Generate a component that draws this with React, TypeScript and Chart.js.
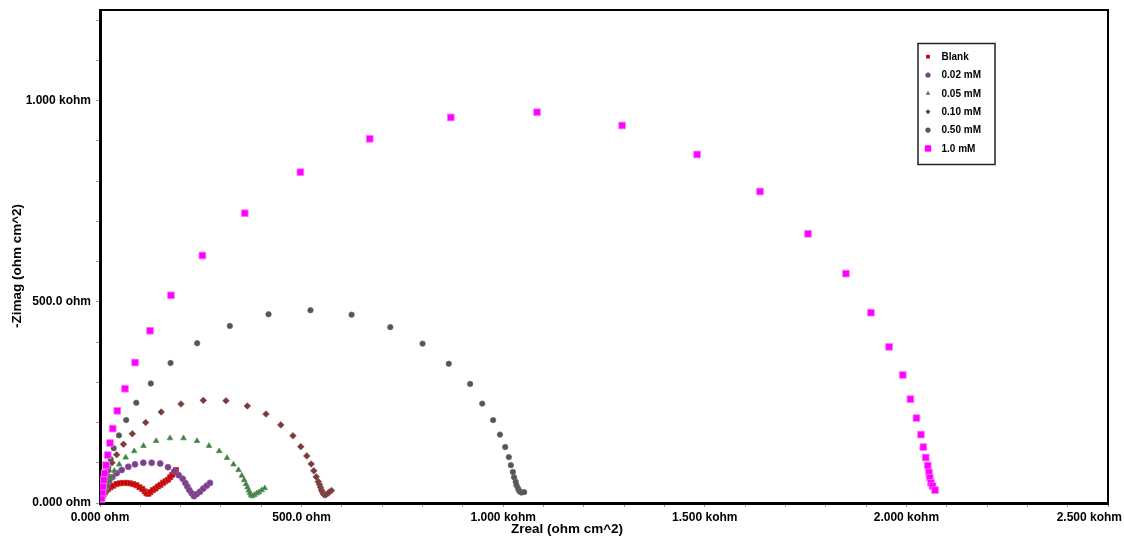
import React, { useEffect, useRef } from 'react';
import { Chart, registerables } from 'chart.js';

Chart.register(...registerables);

const seriesNames = ['Blank', '0.02 mM', '0.05 mM', '0.10 mM', '0.50 mM', '1.0 mM'];

const blankX = [1.2, 2.5, 4.2, 6.2, 8.7, 11.9, 15.6, 19.8, 26, 33, 40.9, 48.9, 57.5, 66.2, 74.4, 82.6, 90.5, 98, 104.9, 110.6, 115.3, 120.3, 125.2, 131.4, 137.6, 143.8, 150, 156.2, 162.4, 168.6, 174.1, 179.3, 184, 188.5];
const blankY = [2.5, 6, 11, 16, 21, 26, 31, 35, 39, 43, 47, 49, 50, 50, 49, 47, 44, 39, 35, 29, 24, 23, 27, 32, 36, 41, 45, 50, 54, 58, 64, 70, 76, 82];

const mM002X = [1.2, 2.5, 4.5, 6.9, 9.9, 13.1, 16.6, 22.3, 30.5, 41.4, 53.8, 70.2, 86.8, 107.4, 128.2, 149.3, 168.6, 184.8, 195.4, 205.1, 211.5, 216.5, 221.5, 227.4, 233.1, 239.8, 248, 256.2, 264.6, 272.8];
const mM002Y = [2.5, 6, 11, 19, 26, 34, 42, 53, 64, 74, 82, 90, 96, 100, 100, 98, 89, 79, 69, 60, 50, 41, 32, 24, 17, 22, 28, 36, 43, 50];

const mM005X = [1.2, 2.5, 4.5, 7, 10.4, 14.9, 20.6, 26.8, 35.5, 47.6, 63.7, 84.8, 107.9, 139.4, 173.6, 207.1, 240.6, 270.3, 295.6, 315, 331.1, 343.5, 351.7, 357.6, 362.1, 365.8, 369, 372, 374.5, 377.7, 382.7, 388.6, 394.3, 401, 408.5];
const mM005Y = [2.5, 6, 12, 19, 27, 37, 51, 64, 80, 96, 113, 129, 142, 154, 161, 161, 154, 142, 129, 112, 96, 82, 68, 57, 47, 39, 31, 25, 20, 17, 20, 24, 27, 32, 37];

const mM010X = [1.2, 2.5, 4.2, 6.2, 8.7, 11.7, 14.9, 20.6, 29.8, 41.4, 58.3, 80.1, 113.3, 151.8, 200.9, 256.2, 312.5, 365.3, 411.7, 448.4, 478.6, 498, 512.9, 523.8, 530.2, 536.2, 541.4, 544.4, 546.8, 549.3, 551.8, 554.3, 557.5, 561.2, 565, 568.7, 574.1];
const mM010Y = [2.5, 7.5, 14, 22, 34, 49, 65, 80, 100, 120, 146, 172, 200, 226, 246, 255, 254, 241, 221, 194, 167, 140, 117, 97, 80, 65, 53, 46, 39, 32, 27, 22, 20, 21, 24, 27, 31];

const mM050X = [1.2, 2.5, 3.7, 5, 7.4, 10, 13, 16.6, 20.6, 26.5, 34, 47, 65, 90, 126, 175, 241, 322, 418, 522, 624, 720, 800, 865, 918, 948, 975, 992, 1005, 1014, 1019, 1024, 1027, 1031, 1033, 1037, 1039, 1042, 1045, 1052];
const mM050Y = [2.5, 10, 17, 27, 37, 47, 60, 70, 88, 109, 136, 168, 206, 249, 297, 348, 397, 440, 469, 479, 468, 437, 396, 346, 296, 247, 206, 170, 139, 114, 94, 77, 64, 53, 44, 36, 31, 28, 26, 27];

const mM10X = [1.2, 2.5, 4, 5.7, 7.4, 9.2, 11.7, 14.9, 19.1, 24.8, 31.5, 42.9, 62, 87, 124, 176, 254, 359, 497, 669, 870, 1084, 1295, 1481, 1637, 1756, 1850, 1912, 1957, 1991, 2010, 2025, 2036, 2042, 2048, 2053, 2056, 2058, 2061, 2065, 2071];
const mM10Y = [2.5, 6, 12, 26, 41, 57, 74, 94, 119, 149, 185, 229, 284, 349, 428, 516, 615, 720, 822, 905, 958, 971, 938, 866, 774, 669, 570, 473, 388, 318, 258, 211, 170, 139, 113, 93, 76, 63, 50, 42, 32];

const xTickLabels = ['0.000 ohm', '500.0 ohm', '1.000 kohm', '1.500 kohm', '2.000 kohm', '2.500 kohm'];
const yTickLabels = ['0.000 ohm', '500.0 ohm', '1.000 kohm'];

const xTitle = 'Zreal (ohm cm^2)';
const yTitle = '-Zimag (ohm cm^2)';

const seriesX = [blankX, mM002X, mM005X, mM010X, mM050X, mM10X];
const seriesY = [blankY, mM002Y, mM005Y, mM010Y, mM050Y, mM10Y];
const colors = ['#c00000', '#7b3f8b', '#3e7e3e', '#7a3a3a', '#555555', '#ff00ff'];
const borders = ['#d03030', '#8e5a9c', '#5a925a', '#8e5252', '#666666', '#ff7aff'];
const styles = ['rect', 'circle', 'triangle', 'rectRot', 'circle', 'rect'];
const radii = [3.6, 3, 3.2, 3.3, 2.7, 4.8];

const FONT = "'Liberation Sans', Arial, sans-serif";

function drawMarker(ctx: CanvasRenderingContext2D, style: string, x: number, y: number, r: number, fill: string) {
  ctx.save();
  ctx.fillStyle = fill;
  ctx.beginPath();
  if (style === 'rect') {
    const s = r * Math.SQRT1_2;
    ctx.rect(x - s, y - s, 2 * s, 2 * s);
  } else if (style === 'circle') {
    ctx.arc(x, y, r, 0, Math.PI * 2);
  } else if (style === 'triangle') {
    ctx.moveTo(x, y - r);
    ctx.lineTo(x + r * 0.87, y + r * 0.5);
    ctx.lineTo(x - r * 0.87, y + r * 0.5);
    ctx.closePath();
  } else {
    ctx.moveTo(x, y - r);
    ctx.lineTo(x + r, y);
    ctx.lineTo(x, y + r);
    ctx.lineTo(x - r, y);
    ctx.closePath();
  }
  ctx.fill();
  ctx.restore();
}

const overlayPlugin = {
  id: 'overlay',
  afterDraw(chart: any) {
    const ctx: CanvasRenderingContext2D = chart.ctx;
    const { left, right, top, bottom } = chart.chartArea;
    ctx.save();
    // frame top and right
    ctx.strokeStyle = '#000';
    ctx.lineWidth = 2;
    ctx.beginPath();
    ctx.moveTo(left, top);
    ctx.lineTo(right, top);
    ctx.lineTo(right, bottom);
    ctx.stroke();

    // last x tick label, kept inside the canvas
    const xs = chart.scales.x;
    ctx.font = `bold 12px ${FONT}`;
    ctx.fillStyle = '#000';
    ctx.textBaseline = 'middle';
    ctx.textAlign = 'right';
    const lastPx = xs.getPixelForValue(2500);
    const w = ctx.measureText(xTickLabels[5]).width;
    ctx.fillText(xTickLabels[5], Math.min(lastPx + w / 2, chart.width - 2), 517.5);

    // axis titles
    ctx.font = `bold 13.5px ${FONT}`;
    ctx.textAlign = 'center';
    ctx.fillText(xTitle, 567, 529);
    ctx.save();
    ctx.translate(17, 266);
    ctx.rotate(-Math.PI / 2);
    ctx.fillText(yTitle, 0, 0);
    ctx.restore();

    // legend
    const bx = 918, by = 43.5, bw = 77, bh = 121;
    ctx.fillStyle = '#fff';
    ctx.fillRect(bx, by, bw, bh);
    ctx.strokeStyle = '#222';
    ctx.lineWidth = 1.5;
    ctx.strokeRect(bx, by, bw, bh);
    ctx.font = `bold 10px ${FONT}`;
    ctx.textAlign = 'left';
    seriesNames.forEach((name, i) => {
      const y = 56.7 + i * 18.35;
      const r = i === 5 ? 4.5 : 2.6;
      drawMarker(ctx, styles[i], 928, y, r, colors[i]);
      ctx.fillStyle = '#000';
      ctx.fillText(name, 941.5, y + 0.5);
    });
    ctx.restore();
  },
};

export default function App() {
  const canvasRef = useRef<HTMLCanvasElement | null>(null);

  useEffect(() => {
    if (!canvasRef.current) return;
    const datasets = seriesNames.map((name, i) => ({
      label: name,
      data: seriesX[i].map((x, k) => ({ x, y: seriesY[i][k] })),
      showLine: false,
      pointStyle: styles[i],
      pointRadius: radii[i],
      pointBackgroundColor: colors[i],
      pointBorderColor: borders[i],
      pointBorderWidth: 0.8,
      order: 5 - i,
    }));
    const chart = new Chart(canvasRef.current, {
      type: 'scatter',
      data: { datasets },
      options: {
        responsive: false,
        animation: false,
        layout: { padding: { top: 10, right: 16, left: 0, bottom: 0 } },
        plugins: { legend: { display: false }, tooltip: { enabled: false } },
        scales: {
          x: {
            type: 'linear',
            position: 'bottom',
            min: 0,
            max: 2500,
            ticks: {
              stepSize: 100,
              autoSkip: false,
              maxRotation: 0,
              includeBounds: false,
              padding: 3,
              color: '#000',
              font: { family: FONT, size: 12, weight: 'bold' },
              callback: (v: any) => {
                const n = Math.round(Number(v));
                return n % 500 === 0 && n < 2500 ? xTickLabels[n / 500] : '';
              },
            },
            grid: { display: true, drawOnChartArea: false, drawTicks: true, tickLength: 4, color: '#999', tickColor: '#999' },
            border: { display: true, color: '#000', width: 3 },
            afterFit: (s: any) => {
              s.height = 35;
              s.paddingLeft = 0;
              s.paddingRight = 0;
            },
          },
          y: {
            type: 'linear',
            min: 0,
            max: 1225,
            ticks: {
              stepSize: 100,
              autoSkip: false,
              includeBounds: false,
              padding: 5,
              color: '#000',
              font: { family: FONT, size: 12, weight: 'bold' },
              callback: (v: any) => {
                const n = Math.round(Number(v));
                return n % 500 === 0 ? yTickLabels[n / 500] : '';
              },
            },
            grid: { display: true, drawOnChartArea: false, drawTicks: true, tickLength: 4, color: '#999', tickColor: '#999' },
            border: { display: true, color: '#000', width: 3 },
            afterFit: (s: any) => {
              s.width = 100;
              s.paddingTop = 0;
              s.paddingBottom = 0;
            },
          },
        },
      },
      plugins: [overlayPlugin],
    } as any);
    return () => chart.destroy();
  }, []);

  return (
    <div style={{ position: 'fixed', left: 0, top: 0, width: 1124, height: 538, background: '#fff' }}>
      <canvas ref={canvasRef} width={1124} height={538} style={{ display: 'block' }} />
    </div>
  );
}
